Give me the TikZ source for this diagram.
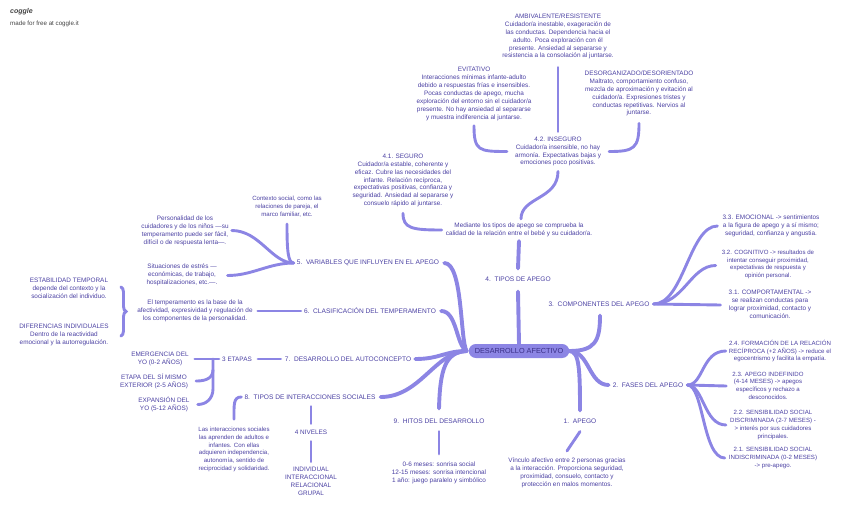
\documentclass[tikz,border=0pt]{standalone}
\usepackage{fontspec}
\setmainfont{Liberation Sans}
\usetikzlibrary{decorations.pathreplacing}
\definecolor{ln}{HTML}{8C85E4}
\definecolor{tx}{HTML}{4A40A2}
\definecolor{tdark}{HTML}{3A2F86}
\definecolor{logo}{HTML}{444444}
\begin{document}
\begin{tikzpicture}[x=1pt,y=-1pt,
  t/.style={text=tx, font=\fontsize{6.4}{7.9}\selectfont, align=center, inner sep=0pt},
  ts/.style={text=tx, font=\fontsize{6.1}{7.7}\selectfont, align=center, inner sep=0pt},
  lab/.style={text=tx, font=\fontsize{6.6}{8}\selectfont, inner sep=0pt},
  br/.style={draw=ln, line width=3.9pt, line cap=round},
  sb/.style={draw=ln, line width=2.9pt, line cap=round}]
\useasboundingbox (0,0) rectangle (848,517);
% logo
\node[anchor=west, inner sep=0pt, text=logo, font=\bfseries\itshape\fontsize{7}{8}\selectfont] (logo) at (10,12) {coggle};
\node[anchor=west, inner sep=0pt, text=logo, font=\fontsize{6.2}{7}\selectfont] (made) at (10,24) {made for free at coggle.it};
% central
\node[fill=ln, rounded corners=7pt, minimum height=14pt, inner xsep=6pt, inner ysep=0pt, text=tdark, font=\fontsize{7.3}{8}\selectfont] (c) at (519,351) {DESARROLLO AFECTIVO};
% branch labels
\node[lab] (b4) at (518,279) {4.~~TIPOS DE APEGO};
\node[lab] (b3) at (599,304) {3.~~COMPONENTES DEL APEGO};
\node[lab] (b2) at (648,385) {2.~~FASES DEL APEGO};
\node[lab] (b1) at (580,421) {1.~~APEGO};
\node[lab] (b9) at (439,421) {9.~~HITOS DEL DESARROLLO};
\node[lab] (b8) at (310,397) {8.~~TIPOS DE INTERACCIONES SOCIALES};
\node[lab] (b7) at (348,359) {7.~~DESARROLLO DEL AUTOCONCEPTO};
\node[lab] (b6) at (370,311) {6.~~CLASIFICACIÓN DEL TEMPERAMENTO};
\node[lab] (b5) at (368,263) {5.~~VARIABLES QUE INFLUYEN EN EL APEGO};
% tipos de apego
\node[t] (med) at (519,230) {Mediante los tipos de apego se comprueba la\\calidad de la relación entre el bebé y su cuidador/a.};
\node[t] (seg) at (403,180.5) {4.1. SEGURO\\Cuidador/a estable, coherente y\\eficaz. Cubre las necesidades del\\infante. Relación recíproca,\\expectativas positivas, confianza y\\seguridad. Ansiedad al separarse y\\consuelo rápido al juntarse.};
\node[t] (inseg) at (558,151.5) {4.2. INSEGURO\\Cuidador/a insensible, no hay\\armonía. Expectativas bajas y\\emociones poco positivas.};
\node[t] (amb) at (558,36.5) {AMBIVALENTE/RESISTENTE\\Cuidador/a inestable, exageración de\\las conductas. Dependencia hacia el\\adulto. Poca exploración con él\\presente. Ansiedad al separarse y\\resistencia a la consolación al juntarse.};
\node[t] (evi) at (474,94) {EVITATIVO\\Interacciones mínimas infante-adulto\\debido a respuestas frías e insensibles.\\Pocas conductas de apego, mucha\\exploración del entorno sin el cuidador/a\\presente. No hay ansiedad al separarse\\y muestra indiferencia al juntarse.};
\node[t] (des) at (639,93.5) {DESORGANIZADO/DESORIENTADO\\Maltrato, comportamiento confuso,\\mezcla de aproximación y evitación al\\cuidador/a. Expresiones tristes y\\conductas repetitivas. Nervios al\\juntarse.};
% componentes
\node[t] (c33) at (771,226) {3.3. EMOCIONAL -> sentimientos\\a la figura de apego y a sí mismo;\\seguridad, confianza y angustia.};
\node[ts] (c32) at (768,264.5) {3.2. COGNITIVO -> resultados de\\intentar conseguir proximidad,\\expectativas de respuesta y\\opinión personal.};
\node[t] (c31) at (770,304.5) {3.1. COMPORTAMENTAL ->\\se realizan conductas para\\lograr proximidad, contacto y\\comunicación.};
% fases
\node[ts] (f24) at (780,351) {2.4. FORMACIÓN DE LA RELACIÓN\\RECÍPROCA (+2 AÑOS) -> reduce el\\egocentrismo y facilita la empatía.};
\node[ts] (f23) at (768,385.5) {2.3. APEGO INDEFINIDO\\(4-14 MESES) -> apegos\\específicos y rechazo a\\desconocidos.};
\node[ts] (f22) at (773,425) {2.2. SENSIBILIDAD SOCIAL\\DISCRIMINADA (2-7 MESES) -\\> interés por sus cuidadores\\principales.};
\node[ts] (f21) at (773,458) {2.1. SENSIBILIDAD SOCIAL\\INDISCRIMINADA (0-2 MESES)\\-> pre-apego.};
% apego
\node[t] (apt) at (567,473) {Vínculo afectivo entre 2 personas gracias\\a la interacción. Proporciona seguridad,\\proximidad, consuelo, contacto y\\protección en malos momentos.};
% hitos
\node[t] (hit) at (439,473) {0-6 meses: sonrisa social\\12-15 meses: sonrisa intencional\\1 año: juego paralelo y simbólico};
% interacciones
\node[t] (niv4) at (311,432) {4 NIVELES};
\node[t] (nivs) at (311,481) {INDIVIDUAL\\INTERACCIONAL\\RELACIONAL\\GRUPAL};
\node[ts] (inter) at (234,449.5) {Las interacciones sociales\\las aprenden de adultos e\\infantes. Con ellas\\adquieren independencia,\\autonomía, sentido de\\reciprocidad y solidaridad.};
% autoconcepto
\node[t] (et) at (237,359) {3 ETAPAS};
\node[t] (e1) at (160,359) {EMERGENCIA DEL\\YO (0-2 AÑOS)};
\node[t] (e2) at (154,381) {ETAPA DEL SÍ MISMO\\EXTERIOR (2-5 AÑOS)};
\node[t] (e3) at (164,404.5) {EXPANSIÓN DEL\\YO (5-12 AÑOS)};
% temperamento
\node[t] (tmp) at (195,311) {El temperamento es la base de la\\afectividad, expresividad y regulación de\\los componentes de la personalidad.};
\node[t] (estab) at (69,288) {ESTABILIDAD TEMPORAL\\depende del contexto y la\\socialización del individuo.};
\node[t] (dif) at (64,335) {DIFERENCIAS INDIVIDUALES\\Dentro de la reactividad\\emocional y la autorregulación.};
% variables
\node[ts] (ctx) at (287,206.5) {Contexto social, como las\\relaciones de pareja, el\\marco familiar, etc.};
\node[t] (pers) at (185,230.5) {Personalidad de los\\cuidadores y de los niños —su\\temperamento puede ser fácil,\\difícil o de respuesta lenta—.};
\node[t] (sit) at (182,274.5) {Situaciones de estrés —\\económicas, de trabajo,\\hospitalizaciones, etc.—.};

% ===== connectors =====
% 4 tipos
\draw[br] (c.north) -- ([yshift=-10pt]b4.south);
\draw[br] ([yshift=8pt]b4.north) -- ([yshift=-4pt]med.south);
\draw[sb] ([xshift=2pt,yshift=4pt]med.north) .. controls +(0,-22) and +(0,28) .. ([yshift=-5pt]inseg.south);
\draw[sb] ([xshift=-4pt]med.west) .. controls +(-30,0) and +(0,15) .. ([yshift=-6pt]seg.south);
\draw[sb] ([xshift=-8pt]inseg.west) .. controls +(-28,0) and +(0,25) .. ([yshift=-5pt]evi.south);
\draw[sb] ([xshift=8pt]inseg.east) .. controls +(25,0) and +(0,25) .. ([yshift=-7pt]des.south);
\draw[sb] ([yshift=5pt]inseg.north) -- ([yshift=-8pt]amb.south);
% 3 componentes
\draw[br] (c.east) .. controls +(26,0) and +(0,25) .. ([xshift=1pt,yshift=-9pt]b3.south);
\draw[sb] ([xshift=4pt]b3.east) .. controls +(30,0) and +(-28,0) .. ([xshift=-5pt]c33.west);
\draw[sb] ([xshift=4pt]b3.east) .. controls +(30,0) and +(-25,0) .. ([xshift=-6pt,yshift=-1pt]c32.west);
\draw[sb] ([xshift=4pt]b3.east) -- ([xshift=-8pt,yshift=-0.5pt]c31.west);
% 2 fases
\draw[br] (c.east) .. controls +(20,0) and +(-20,0) .. ([xshift=-4pt]b2.west);
\draw[sb] ([xshift=4pt]b2.east) .. controls +(16,0) and +(-24,0) .. ([xshift=-3pt]f24.west);
\draw[sb] ([xshift=4pt]b2.east) -- ([xshift=-6pt,yshift=-0.5pt]f23.west);
\draw[sb] ([xshift=4pt]b2.east) .. controls +(16,0) and +(-22,0) .. ([xshift=-4pt]f22.west);
\draw[sb] ([xshift=4pt]b2.east) .. controls +(16,0) and +(-22,0) .. ([xshift=-4pt]f21.west);
% 1 apego
\draw[br] (c.east) .. controls +(10,0) and +(0,-40) .. ([yshift=8pt]b1.north);
\draw[sb] ([yshift=-8pt]b1.south) -- ([yshift=7pt]apt.north);
% left junction
\draw[br] ([xshift=-2pt]c.west) .. controls (460,340) and (463,263) .. ([xshift=5pt]b5.east);
\draw[br] ([xshift=-2pt]c.west) .. controls (456,345) and (457,311) .. ([xshift=5pt]b6.east);
\draw[br] ([xshift=-2pt]c.west) .. controls (445,351) and (440,359) .. ([xshift=4pt]b7.east);
\draw[br] ([xshift=-2pt]c.west) .. controls (435,352) and (420,397) .. ([xshift=5pt]b8.east);
\draw[br] ([xshift=-2pt]c.west) .. controls (445,352) and (440,370) .. ([yshift=10pt]b9.north);
% 9 hitos
\draw[sb] ([yshift=-8pt]b9.south) -- ([yshift=8pt]hit.north);
% 8 interacciones
\draw[sb] ([xshift=-3pt]b8.west) .. controls +(-8,0) and +(0,-15) .. ([yshift=8pt]inter.north);
\draw[sb] ([xshift=1pt,yshift=-7pt]b8.south) -- ([yshift=6pt]niv4.north);
\draw[sb] ([yshift=-7pt]niv4.south) -- ([yshift=5pt]nivs.north);
% 7 autoconcepto
\draw[sb] ([xshift=-4pt]b7.west) -- ([xshift=6pt]et.east);
\draw[sb] ([xshift=-3pt]et.west) -- ([xshift=6pt]e1.east);
\draw[sb] ([xshift=-9pt]et.west) -- ++(0,30) .. controls +(0,10) and +(8,0) .. ([xshift=8pt]e3.east);
\draw[sb] ([xshift=-9pt,yshift=-11pt]et.west) .. controls +(0,10) and +(6,0) .. ([xshift=8pt]e2.east);
% 6 temperamento
\draw[sb] ([xshift=-3pt]b6.west) -- ([xshift=5pt]tmp.east);
\draw[sb, decorate, decoration={brace, amplitude=5pt}] (121,287) -- (121,336);
% 5 variables
\draw[sb] ([xshift=-3pt]b5.west) .. controls +(-6,0) and +(0,25) .. ([yshift=-7pt]ctx.south);
\draw[sb] ([xshift=-3pt]b5.west) .. controls +(-22,0) and +(28,0) .. ([xshift=3pt]pers.east);
\draw[sb] ([xshift=-3pt]b5.west) .. controls +(-25,0) and +(25,0) .. ([xshift=10pt,yshift=-1pt]sit.east);
\end{tikzpicture}
\end{document}
